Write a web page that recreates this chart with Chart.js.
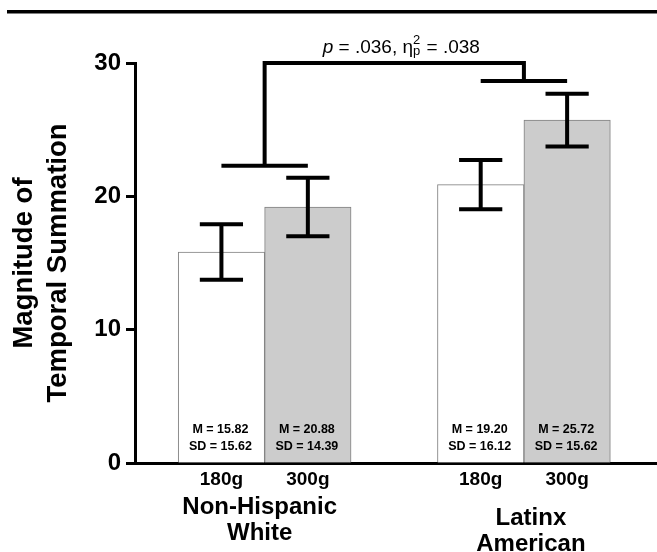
<!DOCTYPE html>
<html>
<head>
<meta charset="utf-8">
<script src="https://cdn.jsdelivr.net/npm/chart.js@4.4.1/dist/chart.umd.min.js"></script>
<style>
  body { margin: 0; background: #fff; }
</style>
</head>
<body>
<canvas id="tsChart" width="657" height="552"></canvas>
<script>
var groupNames = [['Non-Hispanic', 'White'], ['Latinx', 'American']];
var doseNames = ['180g', '300g'];
var mean180 = [15.82, 20.88];
var mean300 = [19.20, 25.72];
var err180 = [2.08, 1.85];
var err300 = [2.20, 1.98];
var stats180 = [['M = 15.82', 'SD = 15.62'], ['M = 19.20', 'SD = 16.12']];
var stats300 = [['M = 20.88', 'SD = 14.39'], ['M = 25.72', 'SD = 15.62']];
var yTicks = [0, 10, 20, 30];
var bracketLevels = [22.3, 28.65];
var bracketTop = 30;
var sigP = '.036';
var sigEta = '.038';

var FONT = '"Liberation Sans", Arial, Helvetica, sans-serif';

// bar centres on the linear x axis: 1,2 then 4,5
function barX(g, d) { return 1 + 3 * g + d; }

var tickPos = [];
var tickText = [];
groupNames.forEach(function(n, g) {
    doseNames.forEach(function(d, k) {
        tickPos.push(barX(g, k));
        tickText.push(d);
    });
});

function toPoints(vals, d) {
    return vals.map(function(v, g) { return {x: barX(g, d), y: v}; });
}

var extras = {
    id: 'extras',
    beforeDraw: function(chart) {
        var ctx = chart.ctx;
        ctx.save();
        ctx.fillStyle = '#000';
        ctx.fillRect(7, 10, 650, 3.5);
        ctx.restore();
    },
    afterDatasetsDraw: function(chart) {
        var ctx = chart.ctx;
        var xs = chart.scales.x, ys = chart.scales.y;
        var unit = xs.getPixelForValue(1) - xs.getPixelForValue(0);
        var cap = unit * 0.25;
        var zero = ys.getPixelForValue(0);

        ctx.save();
        ctx.strokeStyle = '#000';
        ctx.lineWidth = 4;
        chart.data.datasets.forEach(function(ds, i) {
            var meta = chart.getDatasetMeta(i);
            meta.data.forEach(function(bar, j) {
                var m = ds.data[j].y, e = ds.errors[j];
                var top = ys.getPixelForValue(m + e);
                var bot = ys.getPixelForValue(m - e);
                ctx.beginPath();
                ctx.moveTo(bar.x, top); ctx.lineTo(bar.x, bot);
                ctx.moveTo(bar.x - cap, top); ctx.lineTo(bar.x + cap, top);
                ctx.moveTo(bar.x - cap, bot); ctx.lineTo(bar.x + cap, bot);
                ctx.stroke();

                // M / SD text inside the bar
                ctx.fillStyle = '#000';
                ctx.font = 'bold 12.5px ' + FONT;
                ctx.textAlign = 'center';
                ctx.textBaseline = 'middle';
                ctx.fillText(ds.stats[j][0], bar.x - 1, zero - 33);
                ctx.fillText(ds.stats[j][1], bar.x - 1, zero - 16);
            });
        });

        // significance bracket
        var yt = ys.getPixelForValue(bracketTop);
        var centres = [];
        groupNames.forEach(function(n, g) {
            var x1 = xs.getPixelForValue(barX(g, 0));
            var x2 = xs.getPixelForValue(barX(g, 1));
            var yl = ys.getPixelForValue(bracketLevels[g]);
            centres.push({x: (x1 + x2) / 2, y: yl});
            ctx.beginPath();
            ctx.moveTo(x1, yl); ctx.lineTo(x2, yl);
            ctx.stroke();
        });
        ctx.lineJoin = 'miter';
        ctx.beginPath();
        ctx.moveTo(centres[0].x, centres[0].y);
        ctx.lineTo(centres[0].x, yt);
        ctx.lineTo(centres[1].x, yt);
        ctx.lineTo(centres[1].x, centres[1].y);
        ctx.stroke();

        // p / eta text above bracket
        var big = '19px ' + FONT, small = '13px ' + FONT;
        var parts = [
            {t: 'p', f: 'italic ' + big},
            {t: ' = ' + sigP + ', \u03b7', f: big},
            {t: 'stack', f: small},
            {t: ' = ' + sigEta, f: big}
        ];
        var total = 0;
        parts.forEach(function(p) {
            ctx.font = p.f;
            p.w = p.t === 'stack' ? Math.max(ctx.measureText('2').width, ctx.measureText('p').width) + 1 : ctx.measureText(p.t).width;
            total += p.w;
        });
        var cx = (centres[0].x + centres[1].x) / 2 + 7;
        var px = cx - total / 2, base = yt - 10;
        ctx.textAlign = 'left';
        ctx.textBaseline = 'alphabetic';
        parts.forEach(function(p) {
            ctx.font = p.f;
            if (p.t === 'stack') {
                ctx.fillText('2', px, base - 9);
                ctx.fillText('p', px, base + 2);
            } else {
                ctx.fillText(p.t, px, base);
            }
            px += p.w;
        });

        // group names under the dose labels
        ctx.font = 'bold 24px ' + FONT;
        ctx.textAlign = 'center';
        ctx.textBaseline = 'middle';
        var shiftX = [-5, 7];
        var shiftY = [44, 55];
        groupNames.forEach(function(lines, g) {
            var gx = (xs.getPixelForValue(barX(g, 0)) + xs.getPixelForValue(barX(g, 1))) / 2 + shiftX[g];
            lines.forEach(function(l, k) {
                ctx.fillText(l, gx, zero + shiftY[g] + k * 26);
            });
        });
        ctx.restore();
    }
};

var ctx = document.getElementById('tsChart').getContext('2d');
var chart = new Chart(ctx, {
    type: 'bar',
    data: {
        datasets: [{
            label: doseNames[0],
            data: toPoints(mean180, 0),
            errors: err180,
            stats: stats180,
            backgroundColor: '#ffffff',
            borderColor: '#808080',
            borderWidth: 1,
            barPercentage: 1,
            categoryPercentage: 1,
            grouped: false
        }, {
            label: doseNames[1],
            data: toPoints(mean300, 1),
            errors: err300,
            stats: stats300,
            backgroundColor: '#cccccc',
            borderColor: '#808080',
            borderWidth: 1,
            barPercentage: 1,
            categoryPercentage: 1,
            grouped: false
        }]
    },
    options: {
        responsive: false,
        animation: false,
        layout: { padding: { top: 63, right: 0, bottom: 0, left: 0 } },
        plugins: {
            legend: { display: false },
            tooltip: { enabled: false }
        },
        scales: {
            x: {
                type: 'linear',
                offset: false,
                min: 0,
                max: 6.04,
                afterFit: function(s) { s.height = 89; },
                afterBuildTicks: function(s) {
                    s.ticks = tickPos.map(function(v) { return {value: v}; });
                },
                ticks: {
                    autoSkip: false,
                    maxRotation: 0,
                    padding: 5,
                    color: '#000',
                    font: { family: FONT, size: 19, weight: 'bold' },
                    callback: function(v, i) { return tickText[i]; }
                },
                grid: { display: false, drawTicks: false },
                border: { display: true, color: '#000', width: 3 }
            },
            y: {
                min: 0,
                max: 30,
                afterFit: function(s) { s.width = 135; },
                afterBuildTicks: function(s) {
                    s.ticks = yTicks.map(function(v) { return {value: v}; });
                },
                ticks: {
                    padding: 5,
                    color: '#000',
                    font: { family: FONT, size: 24, weight: 'bold' }
                },
                grid: {
                    drawOnChartArea: false,
                    drawTicks: true,
                    tickLength: 9,
                    tickWidth: 3,
                    tickColor: '#000'
                },
                border: { display: true, color: '#000', width: 3 },
                title: {
                    display: true,
                    text: ['Magnitude of', 'Temporal Summation'],
                    color: '#000',
                    padding: { top: 7, bottom: 0 },
                    font: { family: FONT, size: 27.5, weight: 'bold', lineHeight: 1.25 }
                }
            }
        }
    },
    plugins: [extras]
});
</script>
</body>
</html>
